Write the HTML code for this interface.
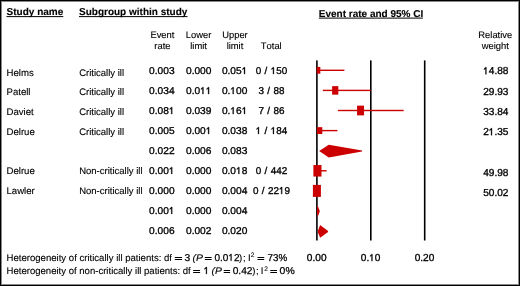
<!DOCTYPE html>
<html><head><meta charset="utf-8"><style>
html,body{margin:0;padding:0;background:#fff;}
svg{display:block;will-change:transform;}
text{font-family:"Liberation Sans",sans-serif;fill:#000;font-kerning:none;text-rendering:geometricPrecision;}
</style></head><body>
<svg width="520" height="286" viewBox="0 0 520 286">
<rect x="0" y="0" width="520" height="286" fill="#fff"/>
<rect x="316.10" y="60.4" width="1.6" height="180.1" fill="#000"/>
<rect x="370.00" y="60.4" width="1.6" height="180.1" fill="#000"/>
<rect x="423.90" y="60.4" width="1.6" height="180.1" fill="#000"/>
<rect x="316.90" y="69.60" width="27.49" height="1.4" fill="#cc0000"/>
<rect x="316.72" y="66.90" width="3.6" height="6.8" fill="#cc0000"/>
<rect x="322.83" y="89.70" width="47.97" height="1.4" fill="#cc0000"/>
<rect x="332.13" y="86.15" width="6.2" height="8.5" fill="#cc0000"/>
<rect x="337.92" y="109.80" width="65.76" height="1.4" fill="#cc0000"/>
<rect x="357.06" y="105.65" width="7.0" height="9.7" fill="#cc0000"/>
<rect x="317.44" y="129.90" width="19.94" height="1.4" fill="#cc0000"/>
<rect x="316.89" y="127.15" width="5.4" height="6.9" fill="#cc0000"/>
<rect x="316.90" y="170.10" width="9.70" height="1.4" fill="#cc0000"/>
<rect x="313.39" y="165.05" width="8.1" height="11.5" fill="#cc0000"/>
<rect x="316.90" y="190.20" width="2.16" height="1.4" fill="#cc0000"/>
<rect x="312.90" y="184.90" width="8.0" height="12.0" fill="#cc0000"/>
<polygon points="319.13,151.10 328.76,144.80 362.04,150.60 362.04,151.60 328.76,157.40" fill="#cc0000"/>
<polygon points="316.90,211.30 317.44,205.00 319.66,210.80 319.66,211.80 317.44,217.60" fill="#cc0000"/>
<polygon points="317.58,231.40 320.13,225.10 328.08,230.90 328.08,231.90 320.13,237.70" fill="#cc0000"/>
<text x="6.600" y="15.100" font-size="10" font-weight="bold" stroke="#000" stroke-width="0.12">Study name</text>
<text x="79.000" y="15.100" font-size="10" font-weight="bold" stroke="#000" stroke-width="0.12">Subgroup within study</text>
<text x="318.800" y="16.700" font-size="10" font-weight="bold" stroke="#000" stroke-width="0.12">Event rate and 95% CI</text>
<rect x="6.5" y="16.1" width="56.80" height="1" fill="#000"/>
<rect x="79.0" y="16.1" width="108.50" height="1" fill="#000"/>
<rect x="318.8" y="17.6" width="104.10" height="1" fill="#000"/>
<text x="150.381" y="37.500" font-size="9.4" stroke="#000" stroke-width="0.12">Event</text>
<text x="154.301" y="49.000" font-size="9.4" stroke="#000" stroke-width="0.12">rate</text>
<text x="185.799" y="37.500" font-size="9.4" stroke="#000" stroke-width="0.12">Lower</text>
<text x="190.246" y="49.000" font-size="9.4" stroke="#000" stroke-width="0.12">limit</text>
<text x="222.199" y="37.500" font-size="9.4" stroke="#000" stroke-width="0.12">Upper</text>
<text x="226.646" y="49.000" font-size="9.4" stroke="#000" stroke-width="0.12">limit</text>
<text x="478.320" y="37.500" font-size="9.4" stroke="#000" stroke-width="0.12">Relative</text>
<text x="481.714" y="49.000" font-size="9.4" stroke="#000" stroke-width="0.12">weight</text>
<text x="260.851" y="49.000" font-size="9.4" stroke="#000" stroke-width="0.12">Total</text>
<text x="6.500" y="75.550" font-size="9.6" stroke="#000" stroke-width="0.12">Helms</text>
<text x="79.200" y="75.550" font-size="9.5" stroke="#000" stroke-width="0.12">Critically ill</text>
<g transform="translate(149.083 74.050) scale(1.0300 1)"><text x="0" y="0" font-size="9.9" stroke="#000" stroke-width="0.32">0.003</text></g>
<g transform="translate(185.983 74.050) scale(1.0300 1)"><text x="0" y="0" font-size="9.9" stroke="#000" stroke-width="0.32">0.000</text></g>
<g transform="translate(221.883 74.050) scale(1.0300 1)"><text x="0" y="0" font-size="9.9" stroke="#000" stroke-width="0.32">0.05 </text><path d="M470,0L470,1120L160,920L160,1090L490,1409L650,1409L650,0Z" transform="translate(19.268 0.000) scale(0.004834 -0.004834)" stroke="#000" stroke-width="66.2"/></g>
<text x="255.762" y="74.050" font-size="9.9" word-spacing="0.6" stroke="#000" stroke-width="0.32">0 /  50</text><path d="M470,0L470,1120L160,920L160,1090L490,1409L650,1409L650,0Z" transform="translate(270.720 74.050) scale(0.004834 -0.004834)" stroke="#000" stroke-width="66.2"/>
<text x="483.163" y="74.250" font-size="10.1" stroke="#000" stroke-width="0.32"> 4.88</text><path d="M470,0L470,1120L160,920L160,1090L490,1409L650,1409L650,0Z" transform="translate(483.163 74.250) scale(0.004932 -0.004932)" stroke="#000" stroke-width="64.9"/>
<text x="6.500" y="95.280" font-size="9.6" stroke="#000" stroke-width="0.12">Patell</text>
<text x="79.200" y="95.280" font-size="9.5" stroke="#000" stroke-width="0.12">Critically ill</text>
<g transform="translate(149.083 94.030) scale(1.0300 1)"><text x="0" y="0" font-size="9.9" stroke="#000" stroke-width="0.32">0.034</text></g>
<g transform="translate(185.983 94.030) scale(1.0300 1)"><text x="0" y="0" font-size="9.9" stroke="#000" stroke-width="0.32">0.0  </text><path d="M470,0L470,1120L160,920L160,1090L490,1409L650,1409L650,0Z" transform="translate(13.762 0.000) scale(0.004834 -0.004834)" stroke="#000" stroke-width="66.2"/><path d="M470,0L470,1120L160,920L160,1090L490,1409L650,1409L650,0Z" transform="translate(19.268 0.000) scale(0.004834 -0.004834)" stroke="#000" stroke-width="66.2"/></g>
<g transform="translate(221.883 94.030) scale(1.0300 1)"><text x="0" y="0" font-size="9.9" stroke="#000" stroke-width="0.32">0. 00</text><path d="M470,0L470,1120L160,920L160,1090L490,1409L650,1409L650,0Z" transform="translate(8.256 0.000) scale(0.004834 -0.004834)" stroke="#000" stroke-width="66.2"/></g>
<text x="258.515" y="94.030" font-size="9.9" word-spacing="0.6" stroke="#000" stroke-width="0.32">3 / 88</text>
<text x="483.163" y="94.570" font-size="10.1" stroke="#000" stroke-width="0.32">29.93</text>
<text x="6.500" y="115.010" font-size="9.6" stroke="#000" stroke-width="0.12">Daviet</text>
<text x="79.200" y="115.010" font-size="9.5" stroke="#000" stroke-width="0.12">Critically ill</text>
<g transform="translate(149.083 114.010) scale(1.0300 1)"><text x="0" y="0" font-size="9.9" stroke="#000" stroke-width="0.32">0.08 </text><path d="M470,0L470,1120L160,920L160,1090L490,1409L650,1409L650,0Z" transform="translate(19.268 0.000) scale(0.004834 -0.004834)" stroke="#000" stroke-width="66.2"/></g>
<g transform="translate(185.983 114.010) scale(1.0300 1)"><text x="0" y="0" font-size="9.9" stroke="#000" stroke-width="0.32">0.039</text></g>
<g transform="translate(221.883 114.010) scale(1.0300 1)"><text x="0" y="0" font-size="9.9" stroke="#000" stroke-width="0.32">0. 6 </text><path d="M470,0L470,1120L160,920L160,1090L490,1409L650,1409L650,0Z" transform="translate(8.256 0.000) scale(0.004834 -0.004834)" stroke="#000" stroke-width="66.2"/><path d="M470,0L470,1120L160,920L160,1090L490,1409L650,1409L650,0Z" transform="translate(19.268 0.000) scale(0.004834 -0.004834)" stroke="#000" stroke-width="66.2"/></g>
<text x="258.515" y="114.010" font-size="9.9" word-spacing="0.6" stroke="#000" stroke-width="0.32">7 / 86</text>
<text x="483.163" y="114.890" font-size="10.1" stroke="#000" stroke-width="0.32">33.84</text>
<text x="6.500" y="134.740" font-size="9.6" stroke="#000" stroke-width="0.12">Delrue</text>
<text x="79.200" y="134.740" font-size="9.5" stroke="#000" stroke-width="0.12">Critically ill</text>
<g transform="translate(149.083 133.990) scale(1.0300 1)"><text x="0" y="0" font-size="9.9" stroke="#000" stroke-width="0.32">0.005</text></g>
<g transform="translate(185.983 133.990) scale(1.0300 1)"><text x="0" y="0" font-size="9.9" stroke="#000" stroke-width="0.32">0.00 </text><path d="M470,0L470,1120L160,920L160,1090L490,1409L650,1409L650,0Z" transform="translate(19.268 0.000) scale(0.004834 -0.004834)" stroke="#000" stroke-width="66.2"/></g>
<g transform="translate(221.883 133.990) scale(1.0300 1)"><text x="0" y="0" font-size="9.9" stroke="#000" stroke-width="0.32">0.038</text></g>
<text x="255.762" y="133.990" font-size="9.9" word-spacing="0.6" stroke="#000" stroke-width="0.32">  /  84</text><path d="M470,0L470,1120L160,920L160,1090L490,1409L650,1409L650,0Z" transform="translate(255.762 133.990) scale(0.004834 -0.004834)" stroke="#000" stroke-width="66.2"/><path d="M470,0L470,1120L160,920L160,1090L490,1409L650,1409L650,0Z" transform="translate(270.720 133.990) scale(0.004834 -0.004834)" stroke="#000" stroke-width="66.2"/>
<text x="483.163" y="135.210" font-size="10.1" stroke="#000" stroke-width="0.32">2 .35</text><path d="M470,0L470,1120L160,920L160,1090L490,1409L650,1409L650,0Z" transform="translate(488.780 135.210) scale(0.004932 -0.004932)" stroke="#000" stroke-width="64.9"/>
<g transform="translate(149.083 153.970) scale(1.0300 1)"><text x="0" y="0" font-size="9.9" stroke="#000" stroke-width="0.32">0.022</text></g>
<g transform="translate(185.983 153.970) scale(1.0300 1)"><text x="0" y="0" font-size="9.9" stroke="#000" stroke-width="0.32">0.006</text></g>
<g transform="translate(221.883 153.970) scale(1.0300 1)"><text x="0" y="0" font-size="9.9" stroke="#000" stroke-width="0.32">0.083</text></g>
<text x="6.500" y="174.200" font-size="9.6" stroke="#000" stroke-width="0.12">Delrue</text>
<text x="79.200" y="174.200" font-size="9.5" stroke="#000" stroke-width="0.12">Non-critically ill</text>
<g transform="translate(149.083 173.950) scale(1.0300 1)"><text x="0" y="0" font-size="9.9" stroke="#000" stroke-width="0.32">0.00 </text><path d="M470,0L470,1120L160,920L160,1090L490,1409L650,1409L650,0Z" transform="translate(19.268 0.000) scale(0.004834 -0.004834)" stroke="#000" stroke-width="66.2"/></g>
<g transform="translate(185.983 173.950) scale(1.0300 1)"><text x="0" y="0" font-size="9.9" stroke="#000" stroke-width="0.32">0.000</text></g>
<g transform="translate(221.883 173.950) scale(1.0300 1)"><text x="0" y="0" font-size="9.9" stroke="#000" stroke-width="0.32">0.0 8</text><path d="M470,0L470,1120L160,920L160,1090L490,1409L650,1409L650,0Z" transform="translate(13.762 0.000) scale(0.004834 -0.004834)" stroke="#000" stroke-width="66.2"/></g>
<text x="255.762" y="173.950" font-size="9.9" word-spacing="0.6" stroke="#000" stroke-width="0.32">0 / 442</text>
<text x="483.163" y="175.850" font-size="10.1" stroke="#000" stroke-width="0.32">49.98</text>
<text x="6.500" y="193.930" font-size="9.6" stroke="#000" stroke-width="0.12">Lawler</text>
<text x="79.200" y="193.930" font-size="9.5" stroke="#000" stroke-width="0.12">Non-critically ill</text>
<g transform="translate(149.083 193.930) scale(1.0300 1)"><text x="0" y="0" font-size="9.9" stroke="#000" stroke-width="0.32">0.000</text></g>
<g transform="translate(185.983 193.930) scale(1.0300 1)"><text x="0" y="0" font-size="9.9" stroke="#000" stroke-width="0.32">0.000</text></g>
<g transform="translate(221.883 193.930) scale(1.0300 1)"><text x="0" y="0" font-size="9.9" stroke="#000" stroke-width="0.32">0.004</text></g>
<text x="253.009" y="193.930" font-size="9.9" word-spacing="0.6" stroke="#000" stroke-width="0.32">0 / 22 9</text><path d="M470,0L470,1120L160,920L160,1090L490,1409L650,1409L650,0Z" transform="translate(278.979 193.930) scale(0.004834 -0.004834)" stroke="#000" stroke-width="66.2"/>
<text x="483.163" y="196.170" font-size="10.1" stroke="#000" stroke-width="0.32">50.02</text>
<g transform="translate(149.083 213.910) scale(1.0300 1)"><text x="0" y="0" font-size="9.9" stroke="#000" stroke-width="0.32">0.00 </text><path d="M470,0L470,1120L160,920L160,1090L490,1409L650,1409L650,0Z" transform="translate(19.268 0.000) scale(0.004834 -0.004834)" stroke="#000" stroke-width="66.2"/></g>
<g transform="translate(185.983 213.910) scale(1.0300 1)"><text x="0" y="0" font-size="9.9" stroke="#000" stroke-width="0.32">0.000</text></g>
<g transform="translate(221.883 213.910) scale(1.0300 1)"><text x="0" y="0" font-size="9.9" stroke="#000" stroke-width="0.32">0.004</text></g>
<g transform="translate(149.083 233.890) scale(1.0300 1)"><text x="0" y="0" font-size="9.9" stroke="#000" stroke-width="0.32">0.006</text></g>
<g transform="translate(185.983 233.890) scale(1.0300 1)"><text x="0" y="0" font-size="9.9" stroke="#000" stroke-width="0.32">0.002</text></g>
<g transform="translate(221.883 233.890) scale(1.0300 1)"><text x="0" y="0" font-size="9.9" stroke="#000" stroke-width="0.32">0.020</text></g>
<text x="306.871" y="261.100" font-size="10.1" stroke="#000" stroke-width="0.32">0.00</text>
<text x="360.771" y="261.100" font-size="10.1" stroke="#000" stroke-width="0.32">0. 0</text><path d="M470,0L470,1120L160,920L160,1090L490,1409L650,1409L650,0Z" transform="translate(369.194 261.100) scale(0.004932 -0.004932)" stroke="#000" stroke-width="64.9"/>
<text x="414.671" y="261.100" font-size="10.1" stroke="#000" stroke-width="0.32">0.20</text>
<g transform="translate(6.564 260.800) scale(0.9975 1)"><text x="0" y="0" font-size="9.6" stroke="#000" stroke-width="0.12">Heterogeneity of critically ill patients: df</text></g>
<rect x="174.80" y="257.00" width="7.30" height="1.0" fill="#000"/>
<rect x="174.80" y="259.00" width="7.30" height="1.0" fill="#000"/>
<g transform="translate(184.406 260.800) scale(1.0335 1)"><text x="0" y="0" font-size="10" stroke="#000" stroke-width="0.25">3</text></g>
<g transform="translate(192.410 260.800) scale(1.0892 1)"><text x="0" y="0" font-size="9.6" font-style="italic" stroke="#000" stroke-width="0.12">(P</text></g>
<rect x="204.80" y="257.00" width="6.80" height="1.0" fill="#000"/>
<rect x="204.80" y="259.00" width="6.80" height="1.0" fill="#000"/>
<g transform="translate(214.408 260.800) scale(1.0029 1)"><text x="0" y="0" font-size="10" stroke="#000" stroke-width="0.25">0.0 2</text><path d="M470,0L470,1120L160,920L160,1090L490,1409L650,1409L650,0Z" transform="translate(13.901 0.000) scale(0.004883 -0.004883)" stroke="#000" stroke-width="51.2"/></g>
<text x="239.021" y="260.800" font-size="9.6" stroke="#000" stroke-width="0.12">)</text>
<text x="243.066" y="260.800" font-size="9.6" stroke="#000" stroke-width="0.12">;</text>
<text x="248.016" y="260.800" font-size="9.6" stroke="#000" stroke-width="0.12">I</text>
<text x="250.865" y="257.300" font-size="6.6" stroke="#000" stroke-width="0.12">2</text>
<rect x="257.50" y="257.00" width="6.70" height="1.0" fill="#000"/>
<rect x="257.50" y="259.00" width="6.70" height="1.0" fill="#000"/>
<g transform="translate(267.497 260.800) scale(0.9820 1)"><text x="0" y="0" font-size="10" stroke="#000" stroke-width="0.25">73%</text></g>
<g transform="translate(6.566 273.900) scale(0.9955 1)"><text x="0" y="0" font-size="9.6" stroke="#000" stroke-width="0.12">Heterogeneity of non-critically ill patients: df</text></g>
<rect x="193.10" y="270.00" width="7.00" height="1.0" fill="#000"/>
<rect x="193.10" y="272.00" width="7.00" height="1.0" fill="#000"/>
<text x="203.672" y="273.900" font-size="10" stroke="#000" stroke-width="0.25"> </text><path d="M470,0L470,1120L160,920L160,1090L490,1409L650,1409L650,0Z" transform="translate(203.672 273.900) scale(0.004883 -0.004883)" stroke="#000" stroke-width="51.2"/>
<g transform="translate(211.610 273.900) scale(1.0892 1)"><text x="0" y="0" font-size="9.6" font-style="italic" stroke="#000" stroke-width="0.12">(P</text></g>
<rect x="223.70" y="270.00" width="6.40" height="1.0" fill="#000"/>
<rect x="223.70" y="272.00" width="6.40" height="1.0" fill="#000"/>
<g transform="translate(232.702 273.900) scale(1.0178 1)"><text x="0" y="0" font-size="10" stroke="#000" stroke-width="0.25">0.42</text></g>
<text x="252.371" y="273.900" font-size="9.6" stroke="#000" stroke-width="0.12">)</text>
<text x="256.016" y="273.900" font-size="9.6" stroke="#000" stroke-width="0.12">;</text>
<text x="260.666" y="273.900" font-size="9.6" stroke="#000" stroke-width="0.12">I</text>
<text x="264.165" y="270.600" font-size="6.6" stroke="#000" stroke-width="0.12">2</text>
<rect x="270.30" y="270.00" width="6.70" height="1.0" fill="#000"/>
<rect x="270.30" y="272.00" width="6.70" height="1.0" fill="#000"/>
<g transform="translate(279.592 273.900) scale(1.0433 1)"><text x="0" y="0" font-size="10" stroke="#000" stroke-width="0.25">0%</text></g>
<rect x="0.5" y="0.5" width="519" height="285" fill="none" stroke="#000" stroke-width="1"/>
<rect x="1.5" y="1.5" width="517" height="283" fill="none" stroke="#888" stroke-width="1"/>
</svg>
</body></html>
